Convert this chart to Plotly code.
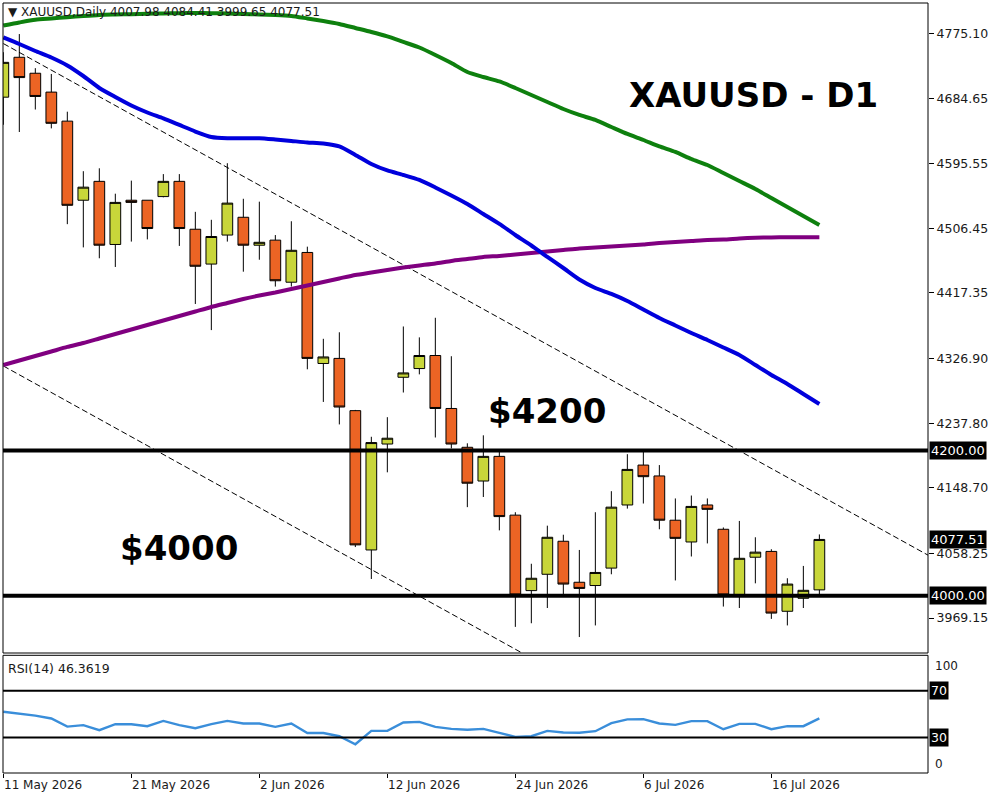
import plotly.graph_objects as go

# ---------------- data ----------------
TICK_IDX = [0, 8, 16, 24, 32, 40, 48]
TICK_LABELS = ["11 May 2026", "21 May 2026", "2 Jun 2026", "12 Jun 2026",
               "24 Jun 2026", "6 Jul 2026", "16 Jul 2026"]

OPEN = [4687, 4742, 4720, 4694, 4654, 4545, 4571, 4484, 4545, 4545,
        4550, 4571, 4505, 4457, 4497, 4521.5, 4483, 4490, 4432, 4473,
        4320, 4327, 4255, 4063, 4209, 4301, 4313, 4331, 4258, 4204.5,
        4158, 4192, 4111, 4007, 4029.5, 4075, 4018.5, 4014, 4038, 4125,
        4180, 4165, 4104, 4074, 4125, 4091.5, 4001, 4053, 4061, 3978.5,
        3996.4, 4007.98]
HIGH = [4749, 4774, 4727, 4719, 4667, 4585, 4589, 4554, 4572, 4545,
        4581, 4581, 4529, 4518, 4596, 4547, 4543, 4497, 4516, 4481,
        4354, 4363, 4256, 4219, 4246, 4371, 4356, 4383, 4330, 4210,
        4221, 4198.5, 4115, 4044, 4096.5, 4084, 4063, 4115, 4144, 4195,
        4199, 4180, 4134, 4138, 4134, 4094, 4103, 4080.5, 4064, 4024,
        4041, 4084.41]
LOW = [4649, 4639, 4670, 4644, 4512, 4480, 4465, 4453, 4488, 4491,
       4549, 4482, 4402, 4366, 4488, 4446.5, 4463, 4426, 4426, 4312,
       4267, 4236, 4067, 4023, 4170, 4280, 4305, 4218, 4203, 4122,
       4136, 4090, 3957, 3962, 3983, 3999, 3943, 3959, 4029.5, 4120,
       4127, 4091.5, 4021, 4054, 4072, 3985, 3983, 4017, 3968, 3959,
       3983, 3999.65]
CLOSE = [4735, 4714, 4688, 4651, 4538, 4563, 4483, 4542, 4542, 4506,
         4571, 4506, 4454, 4495, 4541, 4483, 4487, 4434, 4476, 4327,
         4329, 4260, 4070, 4211, 4217, 4307, 4331, 4258, 4209, 4155,
         4192, 4109, 4001, 4024, 4080.5, 4016, 4010, 4032, 4122, 4174,
         4164, 4104, 4079, 4123, 4119, 4001, 4051.5, 4060, 3976, 4016,
         4007.4, 4077.51]

MA_GREEN = [4785.8, 4790.0, 4793.7, 4795.5, 4797.3, 4798.9, 4800.3, 4800.9, 4801.4, 4802.0,
            4802.4, 4802.8, 4803.1, 4802.8, 4802.4, 4801.7, 4801.0, 4800.3, 4798.9, 4795.5,
            4792.0, 4787.9, 4782.4, 4776.9, 4770.7, 4763.1, 4755.5, 4745.2, 4734.1, 4721.7,
            4714.8, 4708.7, 4699.7, 4690.0, 4680.4, 4670.7, 4662.5, 4655.6, 4645.9, 4636.3,
            4628.0, 4619.1, 4611.5, 4601.8, 4593.6, 4582.5, 4571.5, 4560.5, 4548.1, 4535.7,
            4523.3, 4510.9]
MA_BLUE = [4769.3, 4760.3, 4750.7, 4741.7, 4730.7, 4716.2, 4699.7, 4687.3, 4675.6, 4665.9,
           4657.7, 4648.7, 4639.7, 4632.2, 4630.4, 4630.4, 4630.4, 4628.7, 4626.7, 4624.6,
           4623.2, 4619.1, 4607.4, 4594.9, 4586.0, 4579.8, 4572.9, 4562.6, 4551.5, 4539.8,
           4526.0, 4512.3, 4497.1, 4482.6, 4466.8, 4451.6, 4435.8, 4424.1, 4415.8, 4406.1,
           4394.4, 4382.7, 4372.4, 4362.0, 4352.4, 4342.1, 4331.7, 4317.9, 4304.2, 4291.8,
           4278.0, 4264.2]
MA_PURPLE = [4317.9, 4324.1, 4330.3, 4336.5, 4342.8, 4348.3, 4354.5, 4360.7, 4366.9, 4373.1,
             4379.3, 4385.5, 4391.7, 4397.9, 4403.4, 4408.9, 4413.7, 4417.9, 4422.7, 4427.5,
             4432.3, 4437.2, 4442.0, 4445.4, 4448.9, 4452.3, 4455.1, 4457.8, 4461.3, 4464.0,
             4466.8, 4468.2, 4470.2, 4472.3, 4474.4, 4476.4, 4478.5, 4479.9, 4481.3, 4482.6,
             4484.0, 4486.1, 4487.5, 4488.8, 4490.2, 4490.9, 4492.3, 4493.3, 4493.7, 4493.9,
             4493.9, 4493.9]
RSI = [52.0, 50.6, 48.7, 46.3, 39.3, 40.6, 36.3, 41.4, 41.4, 39.7,
       44.2, 40.6, 38.0, 41.4, 44.2, 42.0, 42.0, 39.1, 42.0, 33.9,
       33.9, 31.1, 24.2, 35.7, 35.7, 42.9, 43.4, 39.1, 37.4, 36.7,
       37.4, 33.9, 30.5, 31.1, 35.7, 34.3, 34.1, 35.4, 42.3, 45.5,
       45.7, 42.0, 40.8, 44.0, 44.0, 37.1, 41.7, 41.7, 37.1, 39.7,
       39.7, 46.3619]

LEVELS = [4200.00, 4000.00]
LAST_PRICE = 4077.51
PRICE_TICKS = [4775.10, 4684.65, 4595.55, 4506.45, 4417.35, 4326.90,
               4237.80, 4148.70, 4058.25, 3969.15]
RSI_LEVELS = [70, 30]
CHANNEL_X = [0, 58]
CHANNEL_UPPER = [4760.9, 4053.3]
CHANNEL_LOWER = [4316.6, 3609.0]

HEADER = "\u25BC XAUUSD,Daily 4007.98 4084.41 3999.65 4077.51"
RSI_LABEL = "RSI(14) 46.3619"

# ---------------- geometry ----------------
W, H = 1000, 800
ML, MR, MT, MB = 3, 72, 3, 27
PW, PH = W - ML - MR, H - MT - MB


def py(px):
    return (H - MB - px) / PH


def pxx(px):
    return (px - ML) / PW


X_RANGE = [-0.02, 57.79]
Y_RANGE = [3921.0, 4816.8]
RSI_RANGE = [-0.4, 100.4]

x = list(range(len(OPEN)))

UP = "#C8D63A"
DOWN = "#EC6424"
SMALL = dict(family="DejaVu Sans", size=12, color="#1a1a1a")
BIG = dict(family="DejaVu Sans", size=34, color="black", weight=700)

fig = go.Figure()

fig.add_trace(go.Candlestick(
    x=x, open=OPEN, high=HIGH, low=LOW, close=CLOSE,
    increasing=dict(fillcolor=UP, line=dict(color="black", width=1)),
    decreasing=dict(fillcolor=DOWN, line=dict(color="black", width=1)),
    xaxis="x", yaxis="y", hoverinfo="skip", showlegend=False,
))

for ch in (CHANNEL_UPPER, CHANNEL_LOWER):
    fig.add_trace(go.Scatter(
        x=CHANNEL_X, y=ch, mode="lines",
        line=dict(color="black", width=1, dash="6px,3px"),
        xaxis="x", yaxis="y", hoverinfo="skip", showlegend=False))

for vals, col in ((MA_GREEN, "#0E800E"), (MA_PURPLE, "#800080"), (MA_BLUE, "#0000DC")):
    fig.add_trace(go.Scatter(
        x=x, y=vals, mode="lines",
        line=dict(color=col, width=4, shape="spline", smoothing=0.6),
        xaxis="x", yaxis="y", hoverinfo="skip", showlegend=False))

fig.add_trace(go.Scatter(
    x=x, y=RSI, mode="lines", line=dict(color="#3A8EDA", width=2.4),
    xaxis="x2", yaxis="y2", hoverinfo="skip", showlegend=False))

shapes = []
# panel borders
shapes.append(dict(type="rect", xref="paper", yref="paper", x0=0, x1=1,
                   y0=py(653), y1=1, line=dict(color="black", width=1)))
shapes.append(dict(type="rect", xref="paper", yref="paper", x0=0, x1=1,
                   y0=0, y1=py(655.3), line=dict(color="black", width=1)))
for lv in LEVELS:
    shapes.append(dict(type="line", xref="paper", yref="y", x0=0, x1=1,
                       y0=lv, y1=lv, line=dict(color="black", width=4)))
for lv in RSI_LEVELS:
    shapes.append(dict(type="line", xref="paper", yref="y2", x0=0, x1=1,
                       y0=lv, y1=lv, line=dict(color="black", width=2)))

annotations = []
annotations.append(dict(text=HEADER, xref="paper", yref="paper", x=pxx(6), y=py(12),
                        xanchor="left", yanchor="middle", showarrow=False, font=SMALL))
annotations.append(dict(text=RSI_LABEL, xref="paper", yref="paper", x=pxx(6), y=py(668),
                        xanchor="left", yanchor="middle", showarrow=False,
                        font=dict(SMALL, size=12.5)))
annotations.append(dict(text="XAUUSD - D1", xref="paper", yref="paper", x=pxx(753), y=py(94.5),
                        xanchor="center", yanchor="middle", showarrow=False, font=BIG))
annotations.append(dict(text="$" + f"{LEVELS[0]:.0f}", xref="paper", yref="paper",
                        x=pxx(547), y=py(411), xanchor="center", yanchor="middle",
                        showarrow=False, font=BIG))
annotations.append(dict(text="$" + f"{LEVELS[1]:.0f}", xref="paper", yref="paper",
                        x=pxx(179), y=py(548), xanchor="center", yanchor="middle",
                        showarrow=False, font=BIG))
for v in LEVELS + [LAST_PRICE]:
    annotations.append(dict(text=f"{v:.2f}", xref="paper", yref="y", x=1, y=v,
                            xanchor="left", yanchor="middle", xshift=1, showarrow=False,
                            bgcolor="black", borderpad=1,
                            font=dict(SMALL, color="white", size=13)))
for v in RSI_LEVELS:
    annotations.append(dict(text=f"{v}", xref="paper", yref="y2", x=1, y=v,
                            xanchor="left", yanchor="middle", xshift=1, showarrow=False,
                            bgcolor="black", borderpad=1,
                            font=dict(SMALL, color="white", size=12.5)))
annotations.append(dict(text="100", xref="paper", yref="paper", x=1, y=py(666),
                        xanchor="left", yanchor="middle", xshift=5, showarrow=False, font=SMALL))
annotations.append(dict(text="0", xref="paper", yref="paper", x=1, y=py(764),
                        xanchor="left", yanchor="middle", xshift=5, showarrow=False, font=SMALL))
for i, lab in zip(TICK_IDX, TICK_LABELS):
    annotations.append(dict(text=lab, xref="x2", yref="paper", x=i, y=py(785),
                            xanchor="left", yanchor="middle", xshift=-1, showarrow=False,
                            font=SMALL))

fig.update_layout(
    width=W, height=H, autosize=False,
    margin=dict(l=ML, r=MR, t=MT, b=MB, pad=0),
    paper_bgcolor="white", plot_bgcolor="white",
    showlegend=False, boxgap=0.33, boxgroupgap=0,
    xaxis=dict(domain=[0, 1], range=X_RANGE, anchor="y", showticklabels=False,
               showgrid=False, zeroline=False, rangeslider=dict(visible=False),
               ticks=""),
    xaxis2=dict(domain=[0, 1], range=X_RANGE, anchor="y2", matches="x",
                showticklabels=False, showgrid=False, zeroline=False,
                tickmode="array", tickvals=TICK_IDX, ticks="outside", ticklen=4,
                tickcolor="black"),
    yaxis=dict(domain=[py(653), 1], range=Y_RANGE, side="right", anchor="x",
               tickmode="array", tickvals=PRICE_TICKS,
               ticktext=[f"{v:.2f}" for v in PRICE_TICKS],
               ticks="outside", ticklen=5, tickcolor="black",
               tickfont=dict(SMALL, size=12.5),
               showgrid=False, zeroline=False),
    yaxis2=dict(domain=[0, py(655.3)], range=RSI_RANGE, side="right", anchor="x2",
                showticklabels=False, showgrid=False, zeroline=False, ticks=""),
    shapes=shapes, annotations=annotations,
    hovermode=False,
)

fig.write_html("out.html", config=dict(displayModeBar=False, staticPlot=True),
               post_script="document.body.style.margin='0';")
